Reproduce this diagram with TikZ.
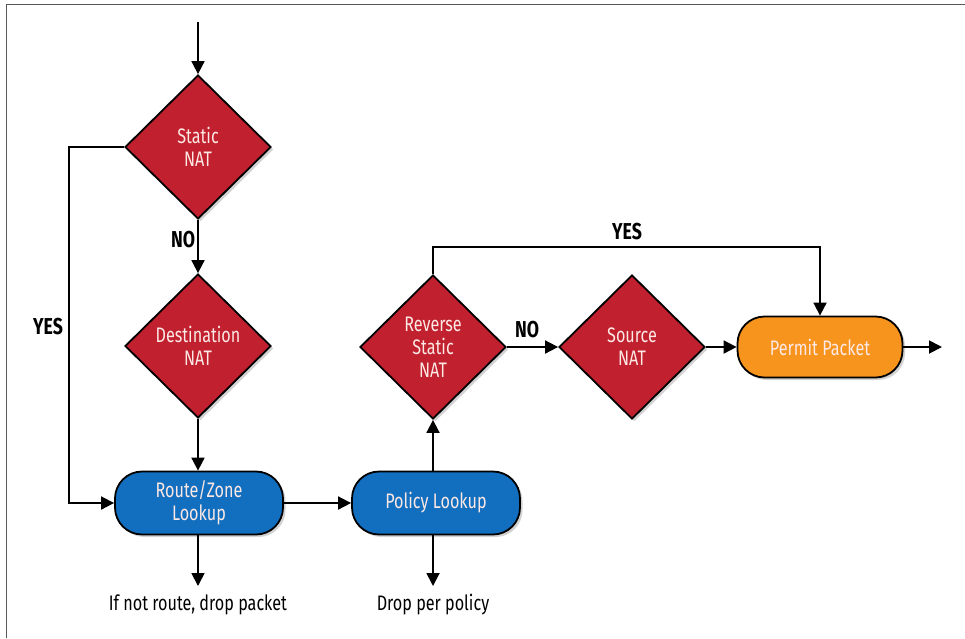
\documentclass[tikz,border=0pt]{standalone}
\usepackage{fontspec}
\setmainfont{Fira Sans}[FakeStretch=0.77]
\usetikzlibrary{shapes.geometric,arrows.meta,shadows}
\definecolor{nred}{RGB}{193,32,46}
\definecolor{nblue}{RGB}{18,110,190}
\definecolor{norange}{RGB}{247,148,29}
\definecolor{ntext}{RGB}{252,232,228}
\begin{document}
\begin{tikzpicture}[x=1pt,y=-1pt,
  shad/.style={drop shadow={opacity=0.35,shadow xshift=2.5pt,shadow yshift=-2.5pt}},
  dia/.style={diamond,draw=black,line width=1.8pt,fill=nred,minimum width=146pt,minimum height=144pt,inner sep=0pt,
    text=ntext,align=center,font=\fontsize{21}{23}\selectfont,shad},
  pill/.style={rectangle,rounded corners=27pt,draw=black,line width=1.8pt,minimum width=168pt,minimum height=63pt,inner sep=0pt,
    text=ntext,align=center,font=\fontsize{21}{23}\selectfont,shad},
  arr/.style={line width=1.8pt,-{Triangle[length=13pt,width=13pt]}},
  lbl/.style={font=\fontsize{23}{24}\selectfont\bfseries,inner sep=0pt},
  note/.style={font=\fontsize{21}{23}\selectfont,inner sep=0pt}]
\useasboundingbox (0,0) rectangle (965,638);
\fill[white] (0,0) rectangle (965,638);
% frame
\draw[line width=1.5pt,black!65] (6.5,638) -- (6.5,4.5) -- (965,4.5);
% nodes
\node[dia] (sn) at (198,147) {Static\\NAT};
\node[dia] (dn) at (198,346) {Destination\\NAT};
\node[pill,fill=nblue] (rz) at (199,503) {Route/Zone\\Lookup};
\node[pill,fill=nblue] (pl) at (436,503) {Policy Lookup};
\node[dia] (rs) at (433,347) {Reverse\\Static\\NAT};
\node[dia] (src) at (632,347) {Source\\NAT};
\node[pill,fill=norange,minimum width=165pt,minimum height=61pt] (pp) at (820,347) {Permit Packet};
\node[note] (t1) at (198,605) {If not route, drop packet};
\node[note] (t2) at (433,605) {Drop per policy};
\node[lbl] (no1) at (183,240) {NO};
\node[lbl] (yes1) at (48,327) {YES};
\node[lbl] (no2) at (527,330) {NO};
\node[lbl] (yes2) at (627,232) {YES};
% coordinates
\coordinate (start) at (198,22);
\coordinate (lx) at (69,0);
\coordinate (ty) at (0,247);
\coordinate (out) at (942,347);
\coordinate (d1) at (198,586);
\coordinate (d2) at (433,586);
% connectors
\draw[arr] (start) -- (sn.north);
\draw[arr] (sn.south) -- (dn.north);
\draw[arr] (dn.south) -- (rz.north -| dn.south);
\draw[arr] (sn.west) -- (sn.west -| lx) |- (rz.west);
\draw[arr] (rz.east) -- (pl.west);
\draw[arr] (rz.south -| d1) -- (d1);
\draw[arr] (pl.south -| d2) -- (d2);
\draw[arr] (pl.north -| rs.south) -- (rs.south);
\draw[arr] (rs.east) -- (src.west);
\draw[arr] (src.east) -- (pp.west);
\draw[arr] (rs.north) -- (rs.north |- ty) -| (pp.north);
\draw[arr] (pp.east) -- (out);
\end{tikzpicture}
\end{document}
